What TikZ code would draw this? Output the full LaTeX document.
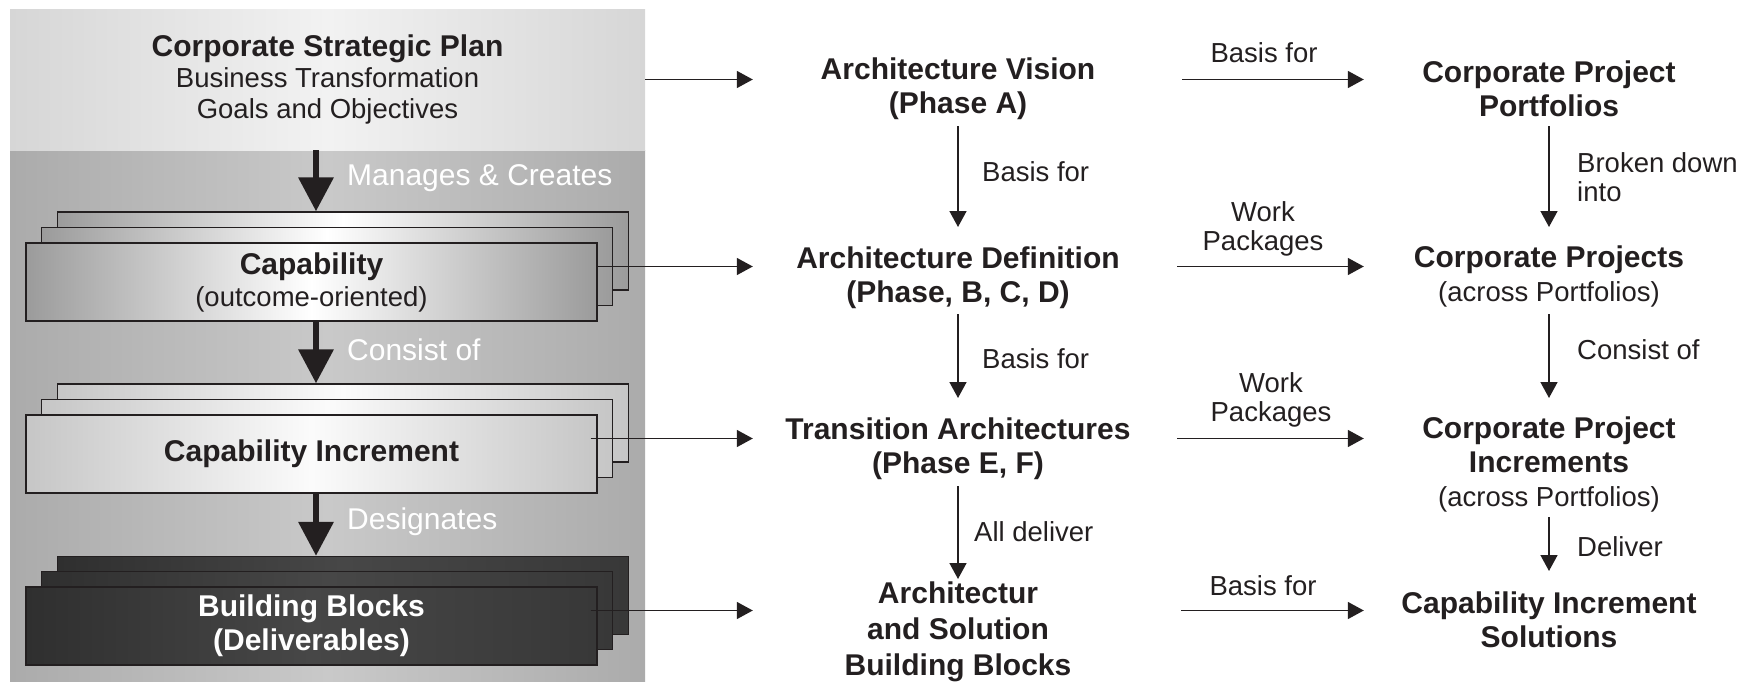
\documentclass[tikz,border=0pt]{standalone}
\usepackage{fontspec}
\setmainfont{Liberation Sans}
\usetikzlibrary{arrows.meta}
\definecolor{ink}{HTML}{231F20}
\definecolor{topedge}{HTML}{D6D6D6}
\definecolor{topmid}{HTML}{F2F2F2}
\definecolor{paneledge}{HTML}{ABABAB}
\definecolor{panelmid}{HTML}{C9C9C9}
\definecolor{capedge}{HTML}{9B9B9B}
\definecolor{ciedge}{HTML}{C6C6C6}
\definecolor{cimid}{HTML}{FBFBFB}
\definecolor{bbleft}{HTML}{2F2F2F}
\definecolor{bbmid}{HTML}{474747}
\definecolor{bbright}{HTML}{383838}
\newcommand\mysubfont{\fontsize{27.5}{31}\selectfont\mdseries}
\begin{document}
\begin{tikzpicture}[x=1pt,y=-1pt,
  every node/.style={text=ink, inner sep=0pt},
  stage/.style={font=\fontsize{30}{34}\selectfont\bfseries, align=center},
  lbl/.style={font=\fontsize{27.5}{29}\selectfont, align=center},
  whitelbl/.style={font=\fontsize{30}{34}\selectfont, text=white, anchor=west},
  stackbox/.style={draw=ink, line width=1.3pt, minimum width=571pt, minimum height=78pt},
  capshade/.style={left color=capedge, right color=capedge, middle color=white},
  cishade/.style={left color=ciedge, right color=ciedge, middle color=cimid},
  bbshade/.style={left color=bbleft, right color=bbright, middle color=bbmid},
  arr/.style={draw=ink, line width=1.5pt, -{Triangle[length=16pt,width=17pt]}},
  bigarr/.style={draw=ink, line width=6.5pt, -{Triangle[length=34pt,width=34pt]}}
]
\useasboundingbox (0,0) rectangle (1741,696);

% left panel
\node[minimum width=635pt, minimum height=531pt, left color=paneledge, right color=paneledge, middle color=panelmid] (panel) at (327.5,415.5) {};
\node[minimum width=635pt, minimum height=141pt, left color=topedge, right color=topedge, middle color=topmid, align=center, font=\mysubfont] (plan) at (327.5,79.5)
  {{\fontsize{30}{31}\selectfont\bfseries Corporate Strategic Plan}\\Business Transformation\\Goals and Objectives};

% capability stack
\node[stackbox, capshade] (capA) at (342.8,251) {};
\node[stackbox, capshade] (capB) at (327.2,266.5) {};
\node[stackbox, capshade, align=center, font=\fontsize{30}{32}\selectfont\bfseries] (capC) at (311.5,282)
  {Capability\\{\mysubfont (outcome-oriented)}};

% capability increment stack
\node[stackbox, cishade] (ciA) at (342.8,423) {};
\node[stackbox, cishade] (ciB) at (327.2,438.5) {};
\node[stackbox, cishade, font=\fontsize{30}{34}\selectfont\bfseries] (ciC) at (311.5,454) {Capability Increment};

% building blocks stack
\node[stackbox, bbshade] (bbA) at (342.8,595.5) {};
\node[stackbox, bbshade] (bbB) at (327.2,610.5) {};
\node[stackbox, bbshade, align=center, text=white, font=\fontsize{30}{34}\selectfont\bfseries] (bbC) at (311.5,626)
  {Building Blocks\\(Deliverables)};

% thick arrows
\coordinate (spine) at (316,0);
\draw[bigarr] (plan.south -| spine) -- (capA.north -| spine);
\draw[bigarr] (capC.south -| spine) -- (ciA.north -| spine);
\draw[bigarr] (ciC.south -| spine) -- (bbA.north -| spine);
\node[whitelbl] (lmc) at (347,178) {Manages \& Creates};
\node[whitelbl] (lco) at (347,350) {Consist of};
\node[whitelbl] (lde) at (347,522) {Designates};

% middle column
\node[stage, minimum width=410pt] (av) at (958,89) {Architecture Vision\\(Phase A)};
\node[stage, minimum width=410pt] (ad) at (958,278) {Architecture Definition\\(Phase, B, C, D)};
\node[stage, minimum width=410pt] (ta) at (958,448.5) {Transition Architectures\\(Phase E, F)};
\node[stage, minimum width=410pt, font=\fontsize{30}{36}\selectfont\bfseries] (abb) at (958,632) {Architectur\\and Solution\\Building Blocks};

% right column
\node[stage, minimum width=370pt] (cpp) at (1549,89) {Corporate Project\\Portfolios};
\node[stage, minimum width=370pt] (cp) at (1549,276) {Corporate Projects\\{\mysubfont (across Portfolios)}};
\node[stage, minimum width=370pt] (cpi) at (1549,464) {Corporate Project\\Increments\\{\mysubfont (across Portfolios)}};
\node[stage, minimum width=370pt] (cis) at (1549,620) {Capability Increment\\Solutions};

% horizontal arrows
\draw[arr] (plan.east) -- (plan.east -| av.west);
\draw[arr, shorten <=19pt] (av.east |- plan.east) -- (cpp.west |- plan.east);
\draw[arr] (capC.east |- capB.east) -- (ad.west |- capB.east);
\draw[arr, shorten <=14pt] (ad.east |- capB.east) -- (cp.west |- capB.east);
\draw[arr, shorten <=-7pt] (ciC.east |- ciB.east) -- (ta.west |- ciB.east);
\draw[arr, shorten <=14pt] (ta.east |- ciB.east) -- (cpi.west |- ciB.east);
\draw[arr, shorten <=-7pt] (bbC.east |- bbB.east) -- (abb.west |- bbB.east);
\draw[arr, shorten <=18pt] (abb.east |- bbB.east) -- (cis.west |- bbB.east);

% vertical arrows
\draw[arr] (av |- 0,126) -- (ad |- 0,227);
\draw[arr] (ad |- 0,314) -- (ta |- 0,398);
\draw[arr] (ta |- 0,486) -- (abb |- 0,579);
\draw[arr] (cpp |- 0,126) -- (cp |- 0,227);
\draw[arr] (cp |- 0,314) -- (cpi |- 0,398);
\draw[arr] (cpi |- 0,517) -- (cis |- 0,571);

% labels
\node[lbl, anchor=west] (b1) at (982,172) {Basis for};
\node[lbl, anchor=west] (b2) at (982,359) {Basis for};
\node[lbl, anchor=west] (ald) at (974,532) {All deliver};
\node[lbl] (b3) at (1264,53) {Basis for};
\node[lbl] (wp1) at (1263,229) {Work\\Packages};
\node[lbl] (wp2) at (1271,400) {Work\\Packages};
\node[lbl] (b4) at (1263,586) {Basis for};
\node[lbl, anchor=west, align=left] (bdi) at (1577,177.5) {Broken down\\into};
\node[lbl, anchor=west] (rco) at (1577,350) {Consist of};
\node[lbl, anchor=west] (rde) at (1577,547) {Deliver};
\end{tikzpicture}
\end{document}
